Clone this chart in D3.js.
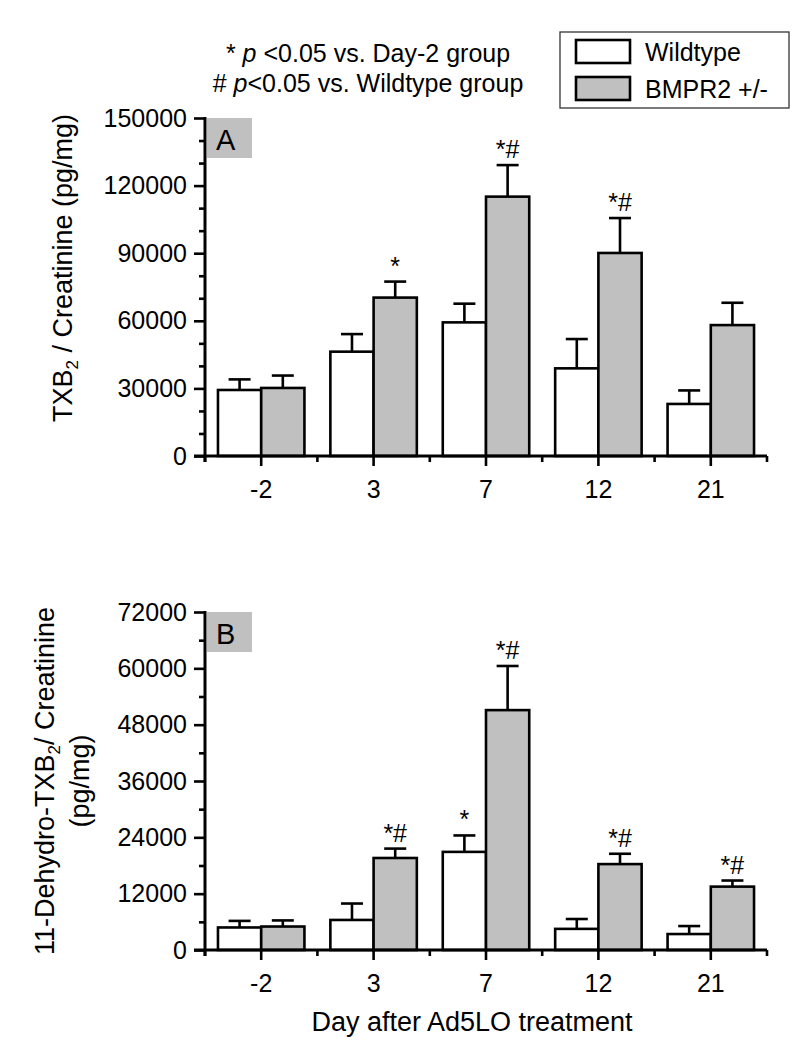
<!DOCTYPE html>
<html><head><meta charset="utf-8">
<script src="https://cdn.jsdelivr.net/npm/d3@7"></script>
<style>
body{margin:0;background:#fff}
svg{display:block}
text{font-family:"Liberation Sans",Arial,Helvetica,sans-serif;fill:#000}
</style>
</head><body>
<svg id="c" width="800" height="1056"></svg>
<script>
// ---- data ----
const days = ["-2", "3", "7", "12", "21"];
const groups = ["Wildtype", "BMPR2 +/-"];
const txbWild = [29300, 46300, 59300, 38900, 23100];
const txbWildErr = [4700, 7800, 8300, 13000, 6000];
const txbBmpr = [30200, 70300, 115100, 90100, 58100];
const txbBmprErr = [5500, 7100, 14000, 15500, 9900];
const dehWild = [4800, 6400, 20900, 4500, 3400];
const dehWildErr = [1400, 3500, 3500, 2100, 1700];
const dehBmpr = [5000, 19600, 51100, 18300, 13500];
const dehBmprErr = [1300, 2000, 9400, 2200, 1300];
const txbWildSig = ["", "", "", "", ""];
const txbBmprSig = ["", "*", "*#", "*#", ""];
const dehWildSig = ["", "", "*", "", ""];
const dehBmprSig = ["", "*#", "*#", "*#", "*#"];
const txbTicks = [0, 30000, 60000, 90000, 120000, 150000];
const txbMinor = d3.range(0, 150001, 10000);
const dehTicks = [0, 12000, 24000, 36000, 48000, 60000, 72000];
const dehMinor = d3.range(0, 72001, 6000);
const fills = ["#ffffff", "#c0c0c0"];

const svg = d3.select("#c");
const X0 = 205, X1 = 767;
const x0 = d3.scaleBand().domain(days).range([X0, X1]);
const x1 = d3.scaleBand().domain(groups).range([0, x0.bandwidth()]).paddingOuter(0.3);

function panel(cfg) {
  const g = svg.append("g");
  const y = d3.scaleLinear().domain([0, cfg.max]).range([cfg.bottom, cfg.top]);
  const series = [
    {name: groups[0], v: cfg.wild, e: cfg.wildErr, s: cfg.wildSig},
    {name: groups[1], v: cfg.bmpr, e: cfg.bmprErr, s: cfg.bmprSig}
  ];
  // label box
  g.append("rect").attr("x", X0 + 2).attr("y", y(cfg.max)).attr("width", 45).attr("height", 40).attr("fill", "#c0c0c0");
  g.append("text").attr("x", X0 + 11).attr("y", y(cfg.max) + 32).attr("font-size", 29).text(cfg.label);

  series.forEach((s, si) => {
    const gg = g.append("g");
    days.forEach((d, i) => {
      const bx = x0(d) + x1(s.name), bw = x1.bandwidth(), cx = bx + bw / 2;
      gg.append("rect").attr("x", bx).attr("y", y(s.v[i])).attr("width", bw)
        .attr("height", y(0) - y(s.v[i])).attr("fill", fills[si]).attr("stroke", "#000").attr("stroke-width", 2.6);
      const yt = y(s.v[i] + s.e[i]);
      gg.append("line").attr("x1", cx).attr("x2", cx).attr("y1", y(s.v[i])).attr("y2", yt)
        .attr("stroke", "#000").attr("stroke-width", 2.6);
      gg.append("line").attr("x1", cx - 11).attr("x2", cx + 11).attr("y1", yt).attr("y2", yt)
        .attr("stroke", "#000").attr("stroke-width", 2.6);
      if (s.s[i]) {
        gg.append("text").attr("x", cx).attr("y", yt - 7).attr("text-anchor", "middle")
          .attr("font-size", 25).text(s.s[i]);
      }
    });
  });

  // y axis
  const ya = g.append("g").attr("transform", `translate(${X0},0)`)
    .call(d3.axisLeft(y).tickValues(cfg.ticks).tickSize(11).tickSizeOuter(0).tickPadding(7).tickFormat(d3.format("d")));
  ya.select(".domain").remove();
  ya.selectAll(".tick line").attr("stroke-width", 2.6);
  ya.selectAll(".tick text").attr("font-size", 25).attr("font-family", "Liberation Sans, Arial, sans-serif").attr("fill", "#000");
  const ym = g.append("g").attr("transform", `translate(${X0},0)`)
    .call(d3.axisLeft(y).tickValues(cfg.minor.filter(v => !cfg.ticks.includes(v))).tickSize(6).tickSizeOuter(0).tickFormat(""));
  ym.select(".domain").remove();
  ym.selectAll(".tick line").attr("stroke-width", 2.6);
  g.append("line").attr("x1", X0).attr("x2", X0).attr("y1", y(cfg.max) - 1).attr("y2", y(0) + 6)
    .attr("stroke", "#000").attr("stroke-width", 3);

  // x axis
  const xa = g.append("g").attr("transform", `translate(0,${y(0)})`)
    .call(d3.axisBottom(x0).tickSize(10).tickSizeOuter(0).tickPadding(14));
  xa.select(".domain").remove();
  xa.selectAll(".tick line").attr("stroke-width", 2.6);
  xa.selectAll(".tick text").attr("font-size", 25).attr("font-family", "Liberation Sans, Arial, sans-serif").attr("fill", "#000");
  const bounds = days.map(d => x0(d)).concat([X1]);
  g.append("g").selectAll("line").data(bounds).join("line")
    .attr("x1", d => d).attr("x2", d => d).attr("y1", y(0)).attr("y2", y(0) + 6)
    .attr("stroke", "#000").attr("stroke-width", 2.6);
  g.append("line").attr("x1", X0 - 11).attr("x2", X1).attr("y1", y(0)).attr("y2", y(0))
    .attr("stroke", "#000").attr("stroke-width", 3);
  return g;
}

panel({label: "A", max: 150000, top: 118, bottom: 456, ticks: txbTicks, minor: txbMinor,
  wild: txbWild, wildErr: txbWildErr, bmpr: txbBmpr, bmprErr: txbBmprErr, wildSig: txbWildSig, bmprSig: txbBmprSig});
panel({label: "B", max: 72000, top: 612, bottom: 950, ticks: dehTicks, minor: dehMinor,
  wild: dehWild, wildErr: dehWildErr, bmpr: dehBmpr, bmprErr: dehBmprErr, wildSig: dehWildSig, bmprSig: dehBmprSig});

// y titles
const tA = svg.append("text").attr("transform", "translate(72,268) rotate(-90)").attr("text-anchor", "middle").attr("font-size", 27);
tA.append("tspan").text("TXB");
tA.append("tspan").attr("font-size", 17).attr("dy", 6).text("2");
tA.append("tspan").attr("dy", -6).text(" / Creatinine (pg/mg)");

const tB = svg.append("text").attr("transform", "translate(54,781) rotate(-90)").attr("text-anchor", "middle").attr("font-size", 27);
tB.append("tspan").text("11-Dehydro-TXB");
tB.append("tspan").attr("font-size", 17).attr("dy", 6).text("2");
tB.append("tspan").attr("dy", -6).text("/ Creatinine");
svg.append("text").attr("transform", "translate(89,781) rotate(-90)").attr("text-anchor", "middle").attr("font-size", 27).text("(pg/mg)");

// x title
svg.append("text").attr("x", 472).attr("y", 1031).attr("text-anchor", "middle").attr("font-size", 27).text("Day after Ad5LO treatment");

// significance notes
const n1 = svg.append("text").attr("x", 368).attr("y", 62).attr("text-anchor", "middle").attr("font-size", 25);
n1.append("tspan").text("* ");
n1.append("tspan").attr("font-style", "italic").text("p");
n1.append("tspan").text(" <0.05 vs. Day-2 group");
const n2 = svg.append("text").attr("x", 368).attr("y", 92).attr("text-anchor", "middle").attr("font-size", 25);
n2.append("tspan").text("# ");
n2.append("tspan").attr("font-style", "italic").text("p");
n2.append("tspan").text("<0.05 vs. Wildtype group");

// legend
const lg = svg.append("g");
lg.append("rect").attr("x", 560).attr("y", 32).attr("width", 229).attr("height", 76)
  .attr("fill", "#fff").attr("stroke", "#333").attr("stroke-width", 1.3);
groups.forEach((gname, i) => {
  const yy = 40 + i * 37;
  lg.append("rect").attr("x", 576).attr("y", yy).attr("width", 54).attr("height", 23)
    .attr("fill", fills[i]).attr("stroke", "#000").attr("stroke-width", 2.6);
  lg.append("text").attr("x", 645).attr("y", yy + 21).attr("font-size", 25).text(gname);
});
</script>
</body></html>
